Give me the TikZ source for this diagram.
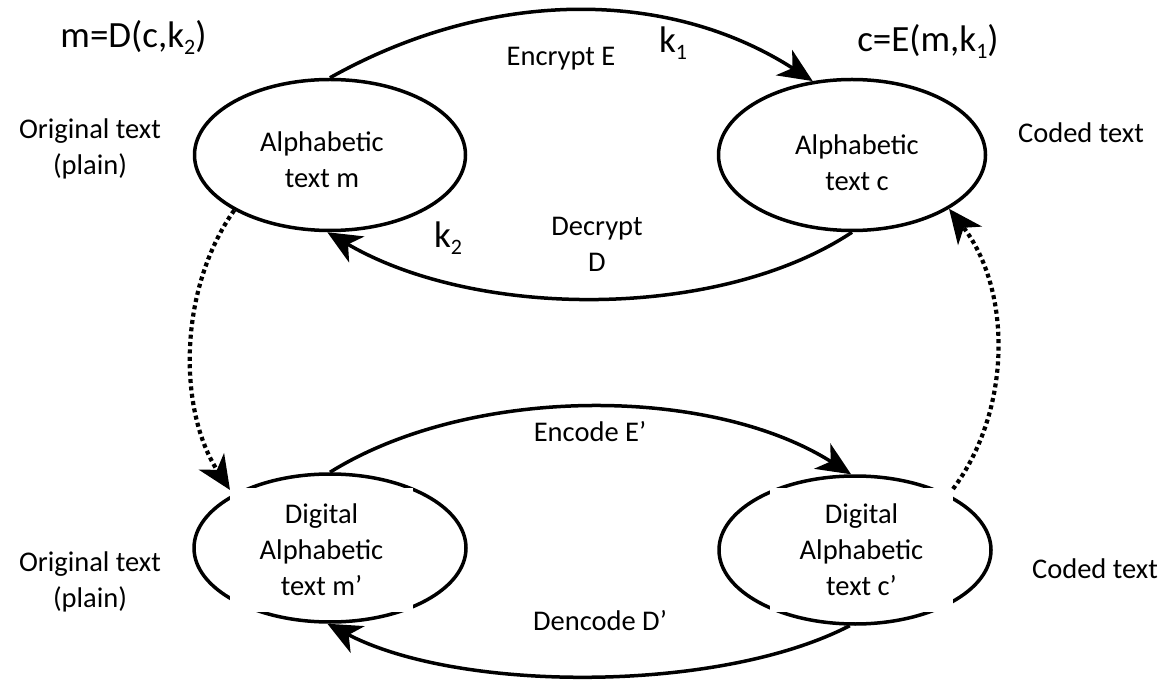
\documentclass[tikz,border=0pt]{standalone}
\usepackage{fontspec}
\setmainfont{Carlito}
\usetikzlibrary{shapes.geometric,arrows.meta}
\newcommand{\ksub}[1]{\raisebox{-7pt}{\fontsize{22}{22}\selectfont #1}}
\begin{document}
\begin{tikzpicture}[x=1pt,y=-1pt,
  oval/.style={ellipse,draw,line width=3.5pt,inner sep=0pt},
  lbl/.style={font=\fontsize{28.5}{36}\selectfont,align=center,inner sep=0pt},
  eq/.style={font=\fontsize{37}{44}\selectfont,inner sep=0pt,anchor=base},
  whitebox/.style={lbl,fill=white,minimum width=183pt,minimum height=124pt},
  conn/.style={line width=3.5pt,-{Stealth[length=34pt,width=30pt,inset=10pt]}},
  dots/.style={conn,line width=4.2pt,dash pattern=on 4pt off 3.4pt}
]
\useasboundingbox (0,0) rectangle (1165,692);

% ellipses
\node[oval,minimum width=271pt,minimum height=151pt] (tl) at (330,155) {};
\node[oval,minimum width=267pt,minimum height=151pt] (tr) at (852,155) {};
\node[oval,minimum width=272pt,minimum height=148pt] (bl) at (330,548) {};
\node[oval,minimum width=272pt,minimum height=148pt] (br) at (855,550) {};

% ellipse texts
\node[lbl] (tlt) at (322,160) {Alphabetic\\text m};
\node[lbl] (trt) at (857,163) {Alphabetic\\text c};
\node[whitebox] (blt) at (321.5,550) {Digital\\Alphabetic\\text m’};
\node[whitebox] (brt) at (861.5,549.5) {Digital\\Alphabetic\\text c’};

% side texts
\node[lbl] (ot1) at (90,149) {Original text\\(plain)};
\node[lbl,anchor=base] (ct1) at (1081,143) {Coded text};
\node[lbl] (ot2) at (90,582) {Original text\\(plain)};
\node[lbl,anchor=base] (ct2) at (1095,578) {Coded text};

% formulas
\node[eq] (fm) at (133.5,48) {m=D(c,k\ksub{2})};
\node[eq] (fc) at (928,52) {c=E(m,k\ksub{1})};
\node[eq] (k1) at (673,53) {k\ksub{1}};
\node[eq] (k2) at (448,248) {k\ksub{2}};

% arc labels
\node[lbl,anchor=base] (enc) at (561,66) {Encrypt E};
\node[lbl] (dec) at (597,244) {Decrypt\\D};
\node[lbl,anchor=base] (ecd) at (590,442) {Encode E’};
\node[lbl,anchor=base] (dcd) at (600,630) {Dencode D’};

% connectors
\draw[conn] (tl.90) .. controls (490,-12) and (668,-12) .. (tr.118);
\draw[conn] (tr.270) .. controls (720,320) and (477,320) .. (tl.268);
\draw[conn] (bl.90) .. controls (470,385) and (710,385) .. (br.93);
\draw[conn] (br.266) .. controls (720,693) and (460,693) .. (bl.268);

\coordinate (dl) at (230,490);
\coordinate (dr) at (953,489);
\draw[dots] (tl.210) .. controls (178,290) and (178,410) .. (dl);
\draw[dots] (dr) .. controls (1012,410) and (1012,290) .. (tr.331);
\end{tikzpicture}
\end{document}
